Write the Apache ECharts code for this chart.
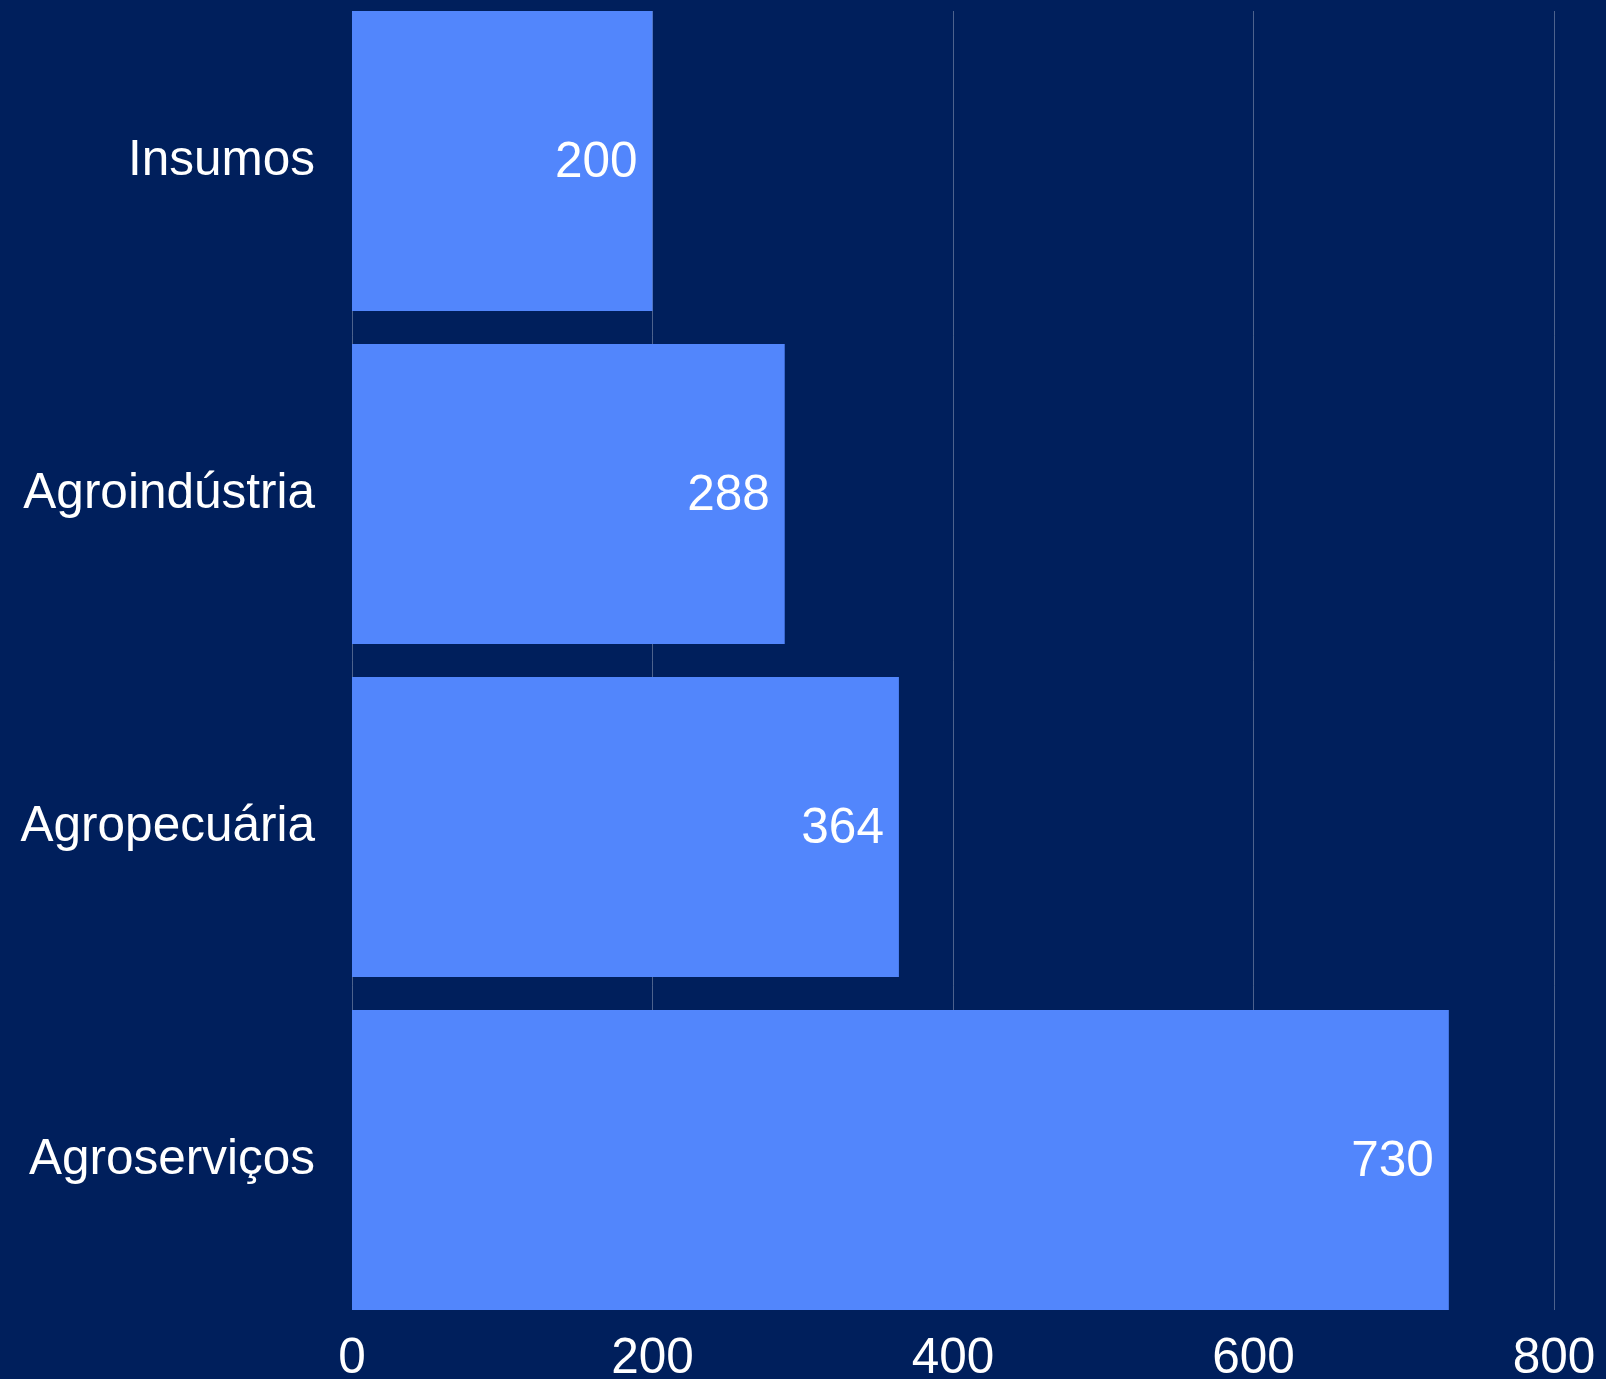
<!DOCTYPE html>
<html>
<head>
<meta charset="utf-8">
<script src="https://cdn.jsdelivr.net/npm/echarts@6/dist/echarts.min.js"></script>
<style>
html,body{margin:0;padding:0;background:#001f5c;}
#c{width:1606px;height:1379px;}
</style>
</head>
<body>
<div id="c"></div>
<script>
const categories = ['Insumos', 'Agroindústria', 'Agropecuária', 'Agroserviços'];
const values = [200, 288, 364, 730];
const xTicks = [0, 200, 400, 600, 800];

const FONT = '"Liberation Sans", Arial, Helvetica, sans-serif';
const chart = echarts.init(document.getElementById('c'), null, {renderer: 'canvas'});
chart.setOption({
  backgroundColor: '#001f5c',
  animation: false,
  grid: [
    {left: 352, right: 52, top: -5.5, height: 1332, containLabel: false, outerBoundsMode: 'none'},
    {left: 352, right: 52, top: 11, bottom: 69, containLabel: false, outerBoundsMode: 'none'}
  ],
  xAxis: [
    {gridIndex: 0, type: 'value', min: xTicks[0], max: xTicks[xTicks.length - 1], interval: 200,
     axisLine: {show: false}, axisTick: {show: false}, axisLabel: {show: false}, splitLine: {show: false}},
    {gridIndex: 1, type: 'value', min: xTicks[0], max: xTicks[xTicks.length - 1], interval: 200,
     axisLine: {show: false}, axisTick: {show: false},
     axisLabel: {color: '#ffffff', fontSize: 49.5, fontFamily: FONT, margin: 24},
     splitLine: {show: true, lineStyle: {color: 'rgba(255,255,255,0.3)', width: 1}}}
  ],
  yAxis: [
    {gridIndex: 0, type: 'category', data: categories, inverse: true,
     axisLine: {show: false}, axisTick: {show: false}, splitLine: {show: false},
     axisLabel: {color: '#ffffff', fontSize: 49.5, fontFamily: FONT, margin: 37}},
    {gridIndex: 1, type: 'value', show: false}
  ],
  series: [{
    type: 'bar',
    xAxisIndex: 0, yAxisIndex: 0,
    data: values,
    barWidth: 300,
    itemStyle: {color: '#5286fc'},
    label: {show: true, position: 'insideRight', distance: 15, offset: [0, 2], color: '#ffffff',
            fontSize: 49.5, fontFamily: FONT}
  }]
});
</script>
</body>
</html>
